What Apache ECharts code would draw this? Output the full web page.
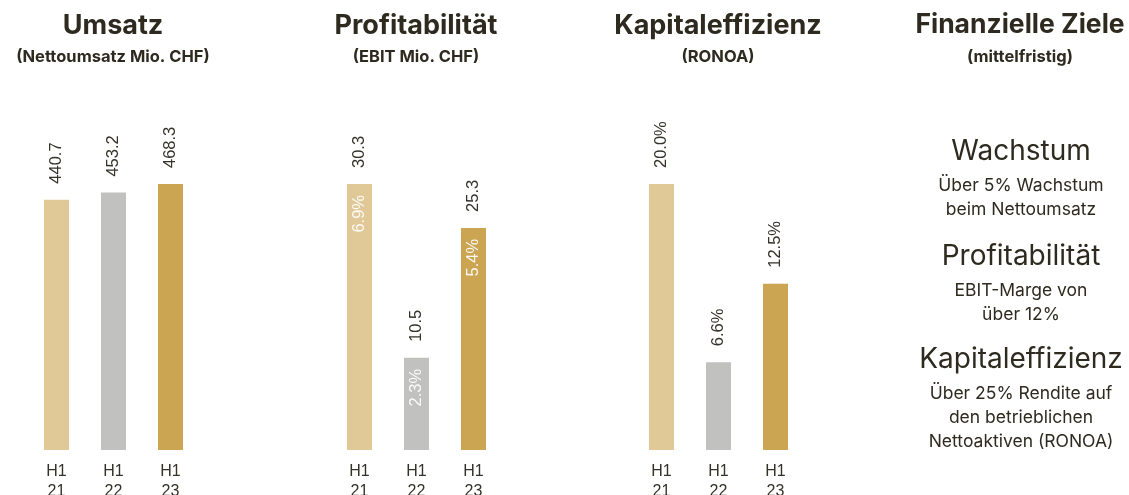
<!DOCTYPE html>
<html>
<head>
<meta charset="utf-8">
<script src="https://cdn.jsdelivr.net/npm/echarts@6/dist/echarts.min.js"></script>
<style>
  html, body { margin: 0; padding: 0; background: #fff; }
  #container { width: 1129px; height: 495px; }
</style>
</head>
<body>
<div id="container"></div>
<script>
// data
var categories = ['H1\n21', 'H1\n22', 'H1\n23'];
var umsatz = [440.7, 453.2, 468.3];
var ebit = [30.3, 10.5, 25.3];
var ebitMarge = [6.9, 2.3, 5.4];
var ronoa = [20.0, 6.6, 12.5];
var barColors = ['#e0c996', '#c1c1c0', '#cba552'];

var dark = '#2e2a1f';
var titleFont = 'Inter';
var numFont = 'Liberation Sans';

function colored(values) {
  return values.map(function (v, i) {
    return { value: v, itemStyle: { color: barColors[i] } };
  });
}

function topLabel(suffix) {
  return {
    show: true,
    position: 'top',
    distance: 16,
    rotate: 90,
    align: 'left',
    verticalAlign: 'middle',
    fontFamily: numFont,
    fontSize: 16.5,
    color: '#35322a',
    formatter: function (p) { return p.value.toFixed(1) + suffix; }
  };
}

function grid(left) {
  return { left: left, width: 171, top: 184, bottom: 45, outerBoundsMode: 'none', containLabel: false };
}

function xAxis(i) {
  return {
    type: 'category',
    gridIndex: i,
    data: categories,
    axisLine: { show: false },
    axisTick: { show: false },
    axisLabel: {
      margin: 12,
      fontFamily: numFont,
      fontSize: 16,
      lineHeight: 20,
      color: '#35322a'
    }
  };
}

function yAxis(i) {
  return { type: 'value', gridIndex: i, min: 0, max: 'dataMax', show: false };
}

// headings over each panel
var heads = [
  [113, 'Umsatz', '(Nettoumsatz Mio. CHF)', 27],
  [416, 'Profitabilität', '(EBIT Mio. CHF)', 27],
  [718, 'Kapitaleffizienz', '(RONOA)', 27],
  [1020, 'Finanzielle Ziele', '(mittelfristig)', 26.5]
];

var titles = [];
heads.forEach(function (h) {
  titles.push({
    text: h[1], left: h[0], top: 12, textAlign: 'center', padding: 0,
    textStyle: { fontFamily: titleFont, fontWeight: 'bold', fontSize: h[3], color: dark }
  });
  titles.push({
    text: h[2], left: h[0], top: 49, textAlign: 'center', padding: 0,
    textStyle: { fontFamily: titleFont, fontWeight: 'bold', fontSize: 16.5, color: dark }
  });
});

// goals column
var goals = [
  [138, 'Wachstum', 'Über 5% Wachstum\nbeim Nettoumsatz'],
  [243, 'Profitabilität', 'EBIT-Marge von\nüber 12%'],
  [346, 'Kapitaleffizienz', 'Über 25% Rendite auf\nden betrieblichen\nNettoaktiven (RONOA)']
];
goals.forEach(function (g) {
  titles.push({
    text: g[1], left: 1021, top: g[0], textAlign: 'center', padding: 0,
    textStyle: { fontFamily: titleFont, fontWeight: 'normal', fontSize: 28, color: dark }
  });
  titles.push({
    text: g[2], left: 1021, top: g[0] + 36, textAlign: 'center', padding: 0,
    textStyle: { fontFamily: titleFont, fontWeight: 'normal', fontSize: 17.5, lineHeight: 24, color: dark }
  });
});

var myChart = echarts.init(document.getElementById('container'));
var option = {
  animation: false,
  title: titles,
  grid: [grid(28), grid(331), grid(633)],
  xAxis: [xAxis(0), xAxis(1), xAxis(2)],
  yAxis: [yAxis(0), yAxis(1), yAxis(2)],
  series: [
    {
      type: 'bar', xAxisIndex: 0, yAxisIndex: 0, barWidth: 25,
      data: colored(umsatz), label: topLabel('')
    },
    {
      type: 'bar', xAxisIndex: 1, yAxisIndex: 1, barWidth: 25, barGap: '-100%',
      data: colored(ebit), label: topLabel('')
    },
    {
      // margin labels inside the EBIT bars
      type: 'bar', xAxisIndex: 1, yAxisIndex: 1, barWidth: 25, barGap: '-100%',
      silent: true, z: 3,
      data: ebit,
      itemStyle: { color: 'rgba(0,0,0,0)' },
      label: {
        show: true,
        position: 'insideTop',
        distance: 11,
        rotate: 90,
        align: 'right',
        verticalAlign: 'middle',
        fontFamily: numFont,
        fontSize: 16.5,
        color: 'rgba(255,255,255,0.92)',
        formatter: function (p) { return ebitMarge[p.dataIndex].toFixed(1) + '%'; }
      }
    },
    {
      type: 'bar', xAxisIndex: 2, yAxisIndex: 2, barWidth: 25,
      data: colored(ronoa), label: topLabel('%')
    }
  ]
};
myChart.setOption(option);
</script>
</body>
</html>
